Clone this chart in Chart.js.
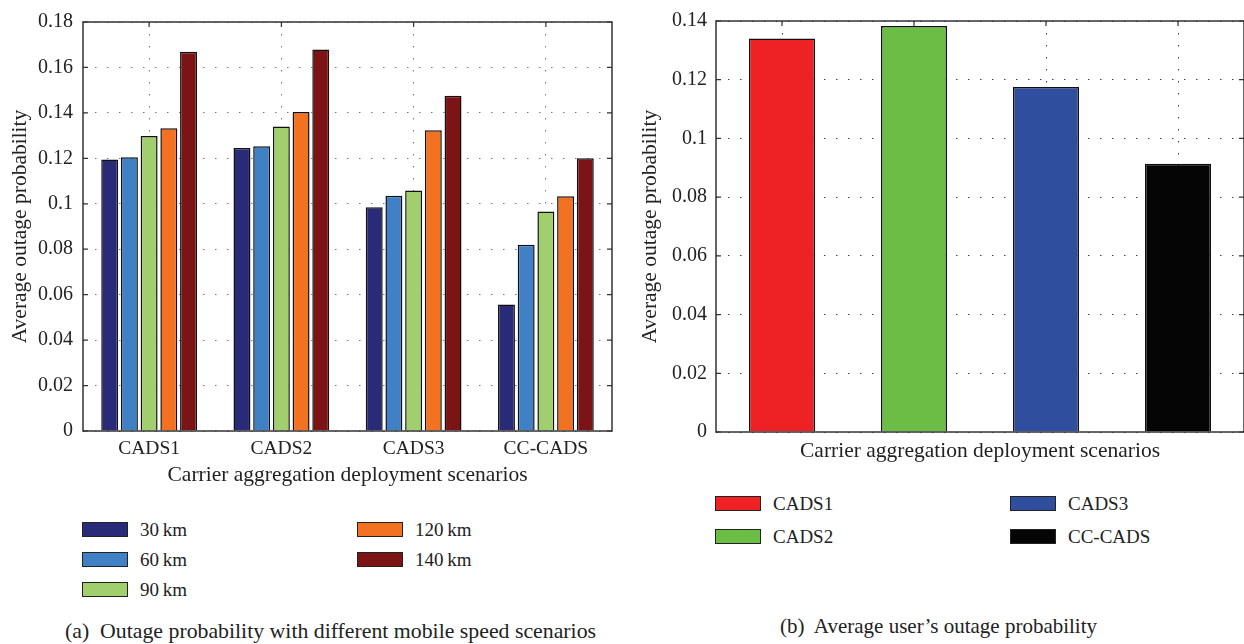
<!DOCTYPE html>
<html>
<head>
<meta charset="utf-8">
<script src="https://cdn.jsdelivr.net/npm/chart.js@4.4.0/dist/chart.umd.min.js"></script>
<style>
  body { margin: 0; background: #fff; width: 1244px; height: 644px; position: relative; overflow: hidden;
         font-family: "Liberation Serif", serif; color: #222; }
  canvas { position: absolute; }
  #chartA { left: 0; top: 0; }
  #chartB { left: 630px; top: 0; }
  .leg { position: absolute; font-size: 19px; line-height: 20px; white-space: nowrap; }
  .leg span.sw { position: absolute; left: 0; top: 1px; width: 44px; height: 13px; border: 1.5px solid #222; }
  .leg span.tx { position: absolute; left: 58px; top: -1px; }
  .cap { position: absolute; font-size: 21px; white-space: nowrap; }
</style>
</head>
<body>
<canvas id="chartA" width="625" height="490"></canvas>
<canvas id="chartB" width="614" height="470"></canvas>
<div id="legendA"></div>
<div id="legendB"></div>
<div class="cap" style="left:65px; top:619px; font-size:21.8px;">(a)&nbsp; Outage probability with different mobile speed scenarios</div>
<div class="cap" style="left:780px; top:614px;">(b)&nbsp; Average user’s outage probability</div>
<script>
// data
const categories = ['CADS1', 'CADS2', 'CADS3', 'CC-CADS'];
const speeds = ['30\u2009km', '60\u2009km', '90\u2009km', '120\u2009km', '140\u2009km'];
const speed30  = [0.1195, 0.1245, 0.0985, 0.0557];
const speed60  = [0.1205, 0.1253, 0.1035, 0.0820];
const speed90  = [0.1298, 0.1340, 0.1058, 0.0966];
const speed120 = [0.1332, 0.1404, 0.1324, 0.1033];
const speed140 = [0.1669, 0.1679, 0.1475, 0.1200];
const avgOutage = [0.1340, 0.1383, 0.1175, 0.0914];
const yTicksA = ['0', '0.02', '0.04', '0.06', '0.08', '0.1', '0.12', '0.14', '0.16', '0.18'];
const yTicksB = ['0', '0.02', '0.04', '0.06', '0.08', '0.1', '0.12', '0.14'];

const speedColors = ['#2a2b78', '#3f81c4', '#a1cf6d', '#f37222', '#7c1416'];
const scenColors = ['#ee2225', '#6cbd46', '#2f4f9e', '#050505'];
const serif = 'Liberation Serif';

// frame + inward tick marks
const framePlugin = {
  id: 'frame',
  afterDraw(chart) {
    const c = chart.ctx, a = chart.chartArea;
    const ys = chart.scales.y, xs = chart.scales.x;
    c.save();
    c.strokeStyle = '#333';
    c.lineWidth = 1.5;
    c.strokeRect(a.left, a.top, a.right - a.left, a.bottom - a.top);
    c.lineWidth = 1.2;
    c.beginPath();
    ys.ticks.forEach((t, i) => {
      const y = ys.getPixelForTick(i);
      c.moveTo(a.left, y); c.lineTo(a.left + 5, y);
      c.moveTo(a.right - 5, y); c.lineTo(a.right, y);
    });
    xs.ticks.forEach((t, i) => {
      const x = xs.getPixelForTick(i);
      c.moveTo(x, a.top); c.lineTo(x, a.top + 5);
    });
    c.stroke();
    c.restore();
  }
};

new Chart(document.getElementById('chartA'), {
  type: 'bar',
  data: {
    labels: categories,
    datasets: [speed30, speed60, speed90, speed120, speed140].map((d, i) => ({
      label: speeds[i],
      data: d,
      backgroundColor: speedColors[i],
      borderColor: '#111',
      borderWidth: 1.5,
      categoryPercentage: 0.745,
      barPercentage: 0.86
    }))
  },
  options: {
    responsive: false,
    animation: false,
    layout: { padding: { top: 14, right: 13, left: 0, bottom: 0 } },
    plugins: { legend: { display: false }, tooltip: { enabled: false } },
    scales: {
      x: {
        grid: { offset: false, color: '#777', lineWidth: 1, drawTicks: false },
        border: { display: false, dash: [1.5, 10.5] },
        ticks: { color: '#222', padding: 6, font: { family: serif, size: 19.5 } },
        title: { display: true, text: 'Carrier aggregation deployment scenarios', color: '#222',
                 font: { family: serif, size: 21.5 }, padding: { top: 0, bottom: 2 } },
        afterFit(s) { s.height = 59; }
      },
      y: {
        min: 0, max: 0.18,
        grid: { color: '#777', lineWidth: 1, drawTicks: false },
        border: { display: false, dash: [1.5, 10.5] },
        ticks: { stepSize: 0.02, padding: 10, color: '#222', font: { family: serif, size: 20 },
                 callback: (v, i) => yTicksA[i] },
        title: { display: true, text: 'Average outage probability', color: '#222',
                 font: { family: serif, size: 21.5 }, padding: { top: 7, bottom: 0 } },
        afterFit(s) { s.width = 83; }
      }
    }
  },
  plugins: [framePlugin]
});

new Chart(document.getElementById('chartB'), {
  type: 'bar',
  data: {
    labels: categories,
    datasets: [{
      label: 'avg',
      data: avgOutage,
      backgroundColor: scenColors,
      borderColor: '#111',
      borderWidth: 1.5,
      categoryPercentage: 1,
      barPercentage: 0.5
    }]
  },
  options: {
    responsive: false,
    animation: false,
    layout: { padding: { top: 15, right: 0, left: 0, bottom: 0 } },
    plugins: { legend: { display: false }, tooltip: { enabled: false } },
    scales: {
      x: {
        grid: { offset: false, color: '#444', lineWidth: 1, drawTicks: false },
        border: { display: false, dash: [1.5, 10.5] },
        ticks: { display: false },
        title: { display: true, text: 'Carrier aggregation deployment scenarios', color: '#222',
                 font: { family: serif, size: 21.5 }, padding: { top: 0, bottom: 6 } },
        afterFit(s) { s.height = 38; }
      },
      y: {
        min: 0, max: 0.14,
        grid: { color: '#444', lineWidth: 1, drawTicks: false },
        border: { display: false, dash: [1.5, 10.5] },
        ticks: { stepSize: 0.02, padding: 9, color: '#222', font: { family: serif, size: 20 },
                 callback: (v, i) => yTicksB[i] },
        title: { display: true, text: 'Average outage probability', color: '#222',
                 font: { family: serif, size: 21.5 }, padding: { top: 7, bottom: 0 } },
        afterFit(s) { s.width = 86; }
      }
    }
  },
  plugins: [framePlugin]
});

// legends (html, built from the same arrays)
function legendItem(parent, x, y, color, text) {
  const d = document.createElement('div');
  d.className = 'leg';
  d.style.left = x + 'px';
  d.style.top = y + 'px';
  d.innerHTML = '<span class="sw" style="background:' + color + '"></span><span class="tx">' + text + '</span>';
  parent.appendChild(d);
}
const legA = document.getElementById('legendA');
speeds.forEach((s, i) => {
  const col = i < 3 ? 0 : 1, row = i < 3 ? i : i - 3;
  legendItem(legA, col ? 357 : 82, 521 + row * 30, speedColors[i], s);
});
const legB = document.getElementById('legendB');
categories.forEach((s, i) => {
  const col = i < 2 ? 0 : 1, row = i % 2;
  legendItem(legB, col ? 1010 : 715, 495 + row * 33, scenColors[i], s);
});
</script>
</body>
</html>
